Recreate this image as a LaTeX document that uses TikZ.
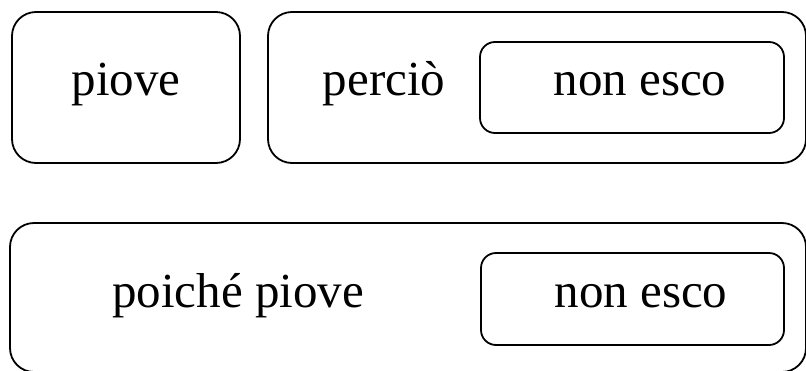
\documentclass[tikz,border=0pt]{standalone}
\usepackage{fontspec}
\setmainfont{Liberation Serif}
\begin{document}
\begin{tikzpicture}[x=1pt,y=-1pt,
  outerbox/.style={draw=black, line width=1.8pt, rounded corners=24pt, inner sep=0pt, outer sep=0pt},
  innerbox/.style={draw=black, line width=1.8pt, rounded corners=15pt, inner sep=0pt, outer sep=0pt},
  lbl/.style={anchor=base, inner sep=0pt, font=\fontsize{49}{58}\selectfont}]
\useasboundingbox (0,0) rectangle (806,370);
% boxes
\node[outerbox, minimum width=228pt, minimum height=151pt] (A) at (126,87.5) {};
\node[outerbox, minimum width=538pt, minimum height=151pt] (B) at (537,87.5) {};
\node[innerbox, minimum width=304pt, minimum height=91pt] (Bi) at (632,87.5) {};
\node[outerbox, minimum width=796pt, minimum height=149pt] (C) at (408,297.5) {};
\node[innerbox, minimum width=303pt, minimum height=92pt] (Ci) at (632.5,299) {};
% texts
\node[lbl] (tA) at (126,95) {piove};
\node[lbl] (tB) at (384,95) {perciò};
\node[lbl] (tBi) at (640,95) {non esco};
\node[lbl] (tC) at (238,307) {poiché piove};
\node[lbl] (tCi) at (641,307) {non esco};
\end{tikzpicture}
\end{document}
